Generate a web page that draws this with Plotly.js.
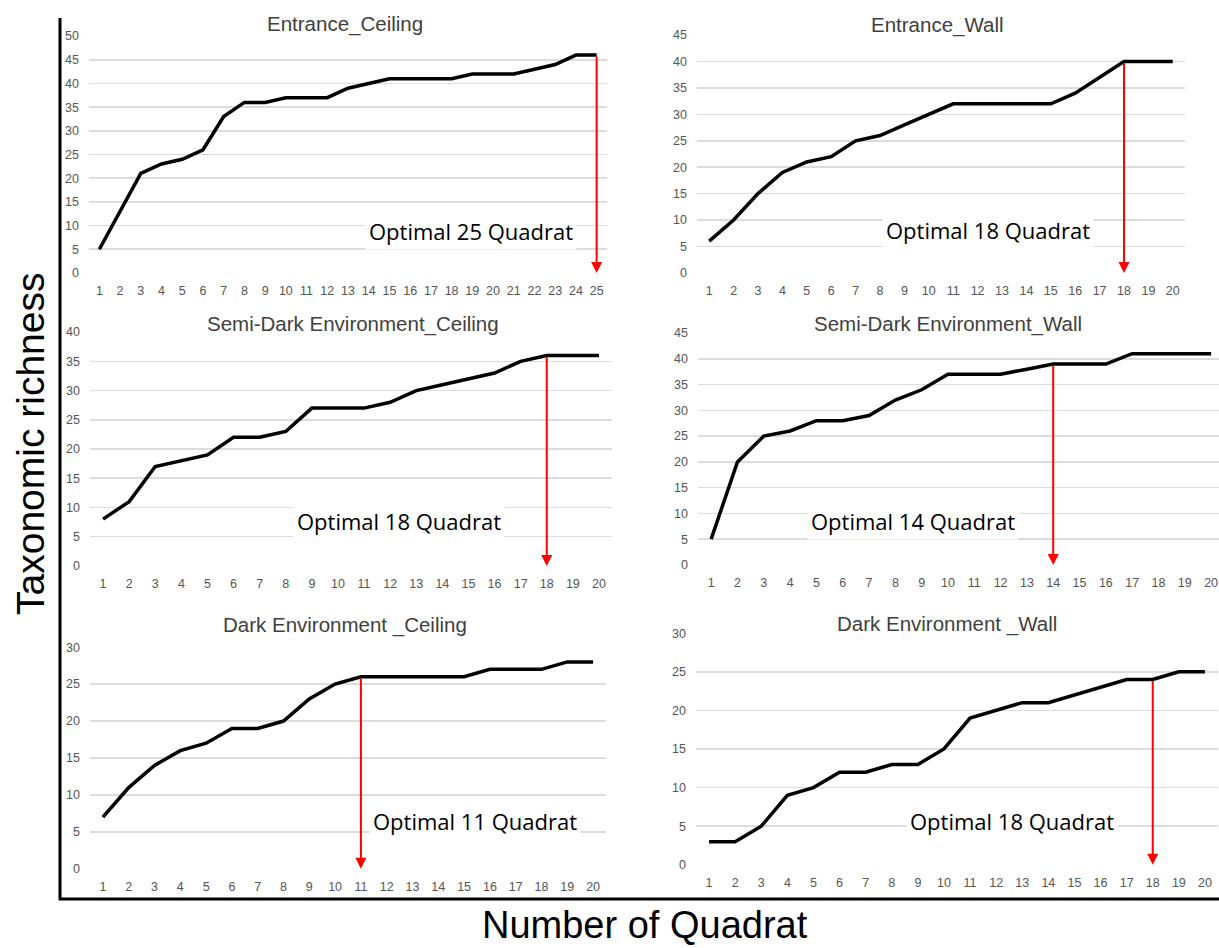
<!DOCTYPE html>
<html>
<head>
<meta charset="utf-8">
<script src="https://cdn.plot.ly/plotly-3.0.1.min.js"></script>
<style>
html,body{margin:0;padding:0;background:#ffffff;}
#chart{width:1219px;height:948px;}
</style>
</head>
<body>
<div id="chart"></div>
<script>
// ---------------- DATA ----------------
const panelTitles = [
  "Entrance_Ceiling",
  "Entrance_Wall",
  "Semi-Dark Environment_Ceiling",
  "Semi-Dark Environment_Wall",
  "Dark Environment _Ceiling",
  "Dark Environment _Wall"
];
const quadrats25 = [1,2,3,4,5,6,7,8,9,10,11,12,13,14,15,16,17,18,19,20,21,22,23,24,25];
const quadrats20 = [1,2,3,4,5,6,7,8,9,10,11,12,13,14,15,16,17,18,19,20];

const entranceCeiling = [5,13,21,23,24,26,33,36,36,37,37,37,39,40,41,41,41,41,42,42,42,43,44,46,46];
const entranceWall    = [6,10,15,19,21,22,25,26,28,30,32,32,32,32,32,34,37,40,40,40];
const semiDarkCeiling = [8,11,17,18,19,22,22,23,27,27,27,28,30,31,32,33,35,36,36,36];
const semiDarkWall    = [5,20,25,26,28,28,29,32,34,37,37,37,38,39,39,39,41,41,41,41];
const darkCeiling     = [7,11,14,16,17,19,19,20,23,25,26,26,26,26,26,27,27,27,28,28];
const darkWall        = [3,3,5,9,10,12,12,13,13,15,19,20,21,21,22,23,24,24,25,25];

const optimalQuadrat = [25,18,18,14,11,18];
const yAxisMax = [50,45,40,45,30,30];
const yTickStep = 5;
const yAxisTitle = "Taxonomic richness";
const xAxisTitle = "Number of Quadrat";

// ---------------- LAYOUT HELPERS ----------------
const series = [entranceCeiling, entranceWall, semiDarkCeiling, semiDarkWall, darkCeiling, darkWall];
const quadratSets = [quadrats25, quadrats20, quadrats20, quadrats20, quadrats20, quadrats20];

const W = 1219, H = 948;
const px = v => v / W;
const py = v => 1 - v / H;

// plot boxes in pixels: x [left,right], y [bottom(value 0), top(value max)]
const boxes = [
  {x:[89,607],  y:[273,36]},
  {x:[697,1185],y:[273,35]},
  {x:[90,612],  y:[566,332]},
  {x:[698,1219],y:[565,333], xEnd:20.3},
  {x:[90,606],  y:[869,647]},
  {x:[696,1218],y:[865,633]}
];
const titlePos   = [[345,24],[937,25],[353,324],[948,324],[345,625],[947,624]];
const optimalPos = [[471,231],[988,230],[399,521],[913,521],[475,821],[1012,821]];

const tickFont = {family:"Liberation Sans, Arial, sans-serif", size:12.5, color:"#555555"};

const traces = [];
const layout = {
  width: W, height: H,
  margin: {l:0, r:0, t:0, b:0, pad:0},
  paper_bgcolor: "#ffffff",
  plot_bgcolor: "#ffffff",
  showlegend: false,
  annotations: [],
  shapes: []
};

for (let i = 0; i < 6; i++) {
  const k = i + 1;
  const sfx = k === 1 ? "" : String(k);
  const xs = quadratSets[i];
  const ys = series[i];
  const b = boxes[i];
  const n = xs.length;

  traces.push({
    type: "scatter", mode: "lines",
    x: xs, y: ys,
    xaxis: "x" + sfx, yaxis: "y" + sfx,
    line: {color:"#000000", width:3.5},
    hoverinfo: "skip"
  });

  layout["xaxis" + sfx] = {
    domain: [px(b.x[0]), px(b.x[1])],
    range: [0.5, b.xEnd !== undefined ? b.xEnd : n + 0.5],
    anchor: "y" + sfx,
    tickmode: "array",
    tickvals: xs,
    ticktext: xs.map(String),
    showgrid: false, zeroline: false, showline: false,
    ticks: "",
    ticklabelstandoff: 8,
    tickfont: tickFont,
    fixedrange: true
  };
  layout["yaxis" + sfx] = {
    domain: [py(b.y[0]), py(b.y[1])],
    range: [-0.02, yAxisMax[i] + 0.02],
    anchor: "x" + sfx,
    tickmode: "linear", tick0: 0, dtick: yTickStep,
    showgrid: true, gridcolor: "#dcdcdc", gridwidth: 1.6,
    zeroline: false, showline: false,
    ticks: "",
    ticklabelstandoff: 9,
    tickfont: tickFont,
    fixedrange: true
  };

  // panel title
  layout.annotations.push({
    xref: "paper", yref: "paper",
    x: px(titlePos[i][0]), y: py(titlePos[i][1]),
    xanchor: "center", yanchor: "middle",
    text: panelTitles[i], showarrow: false,
    font: {family:"Liberation Sans, Arial, sans-serif", size:20.5, color:"#404040"}
  });

  // red arrow from the curve at the optimal quadrat down to zero
  const opt = optimalQuadrat[i];
  const optVal = ys[xs.indexOf(opt)];
  layout.annotations.push({
    xref: "x" + sfx, yref: "y" + sfx,
    axref: "x" + sfx, ayref: "y" + sfx,
    x: opt, y: 0, ax: opt, ay: optVal,
    text: "", showarrow: true,
    arrowhead: 2, arrowsize: 1.1, arrowwidth: 2,
    arrowcolor: "#ff0000", standoff: 0, startstandoff: 0
  });

  // "Optimal N Quadrat" label
  layout.annotations.push({
    xref: "paper", yref: "paper",
    x: px(optimalPos[i][0]), y: py(optimalPos[i][1]),
    xanchor: "center", yanchor: "middle",
    text: "Optimal " + opt + " Quadrat", showarrow: false,
    bgcolor: "#ffffff", borderpad: 3,
    font: {family:"Open Sans, Noto Sans, sans-serif", size:22, color:"#000000"}
  });
}

// outer axis titles
layout.annotations.push({
  xref: "paper", yref: "paper",
  x: px(30), y: py(444),
  xanchor: "center", yanchor: "middle",
  text: yAxisTitle, textangle: -90, showarrow: false,
  font: {family:"Liberation Sans, Arial, sans-serif", size:39, color:"#000000"}
});
layout.annotations.push({
  xref: "paper", yref: "paper",
  x: px(645), y: py(925),
  xanchor: "center", yanchor: "middle",
  text: xAxisTitle, showarrow: false,
  font: {family:"Liberation Sans, Arial, sans-serif", size:38, color:"#000000"}
});

// outer L-shaped frame
layout.shapes.push({
  type: "path", xref: "paper", yref: "paper",
  path: "M " + px(60) + "," + py(18) + " L " + px(60) + "," + py(899) + " L " + px(1219) + "," + py(899),
  line: {color:"#000000", width:3}
});

Plotly.newPlot("chart", traces, layout, {staticPlot:true, displayModeBar:false});
</script>
</body>
</html>
